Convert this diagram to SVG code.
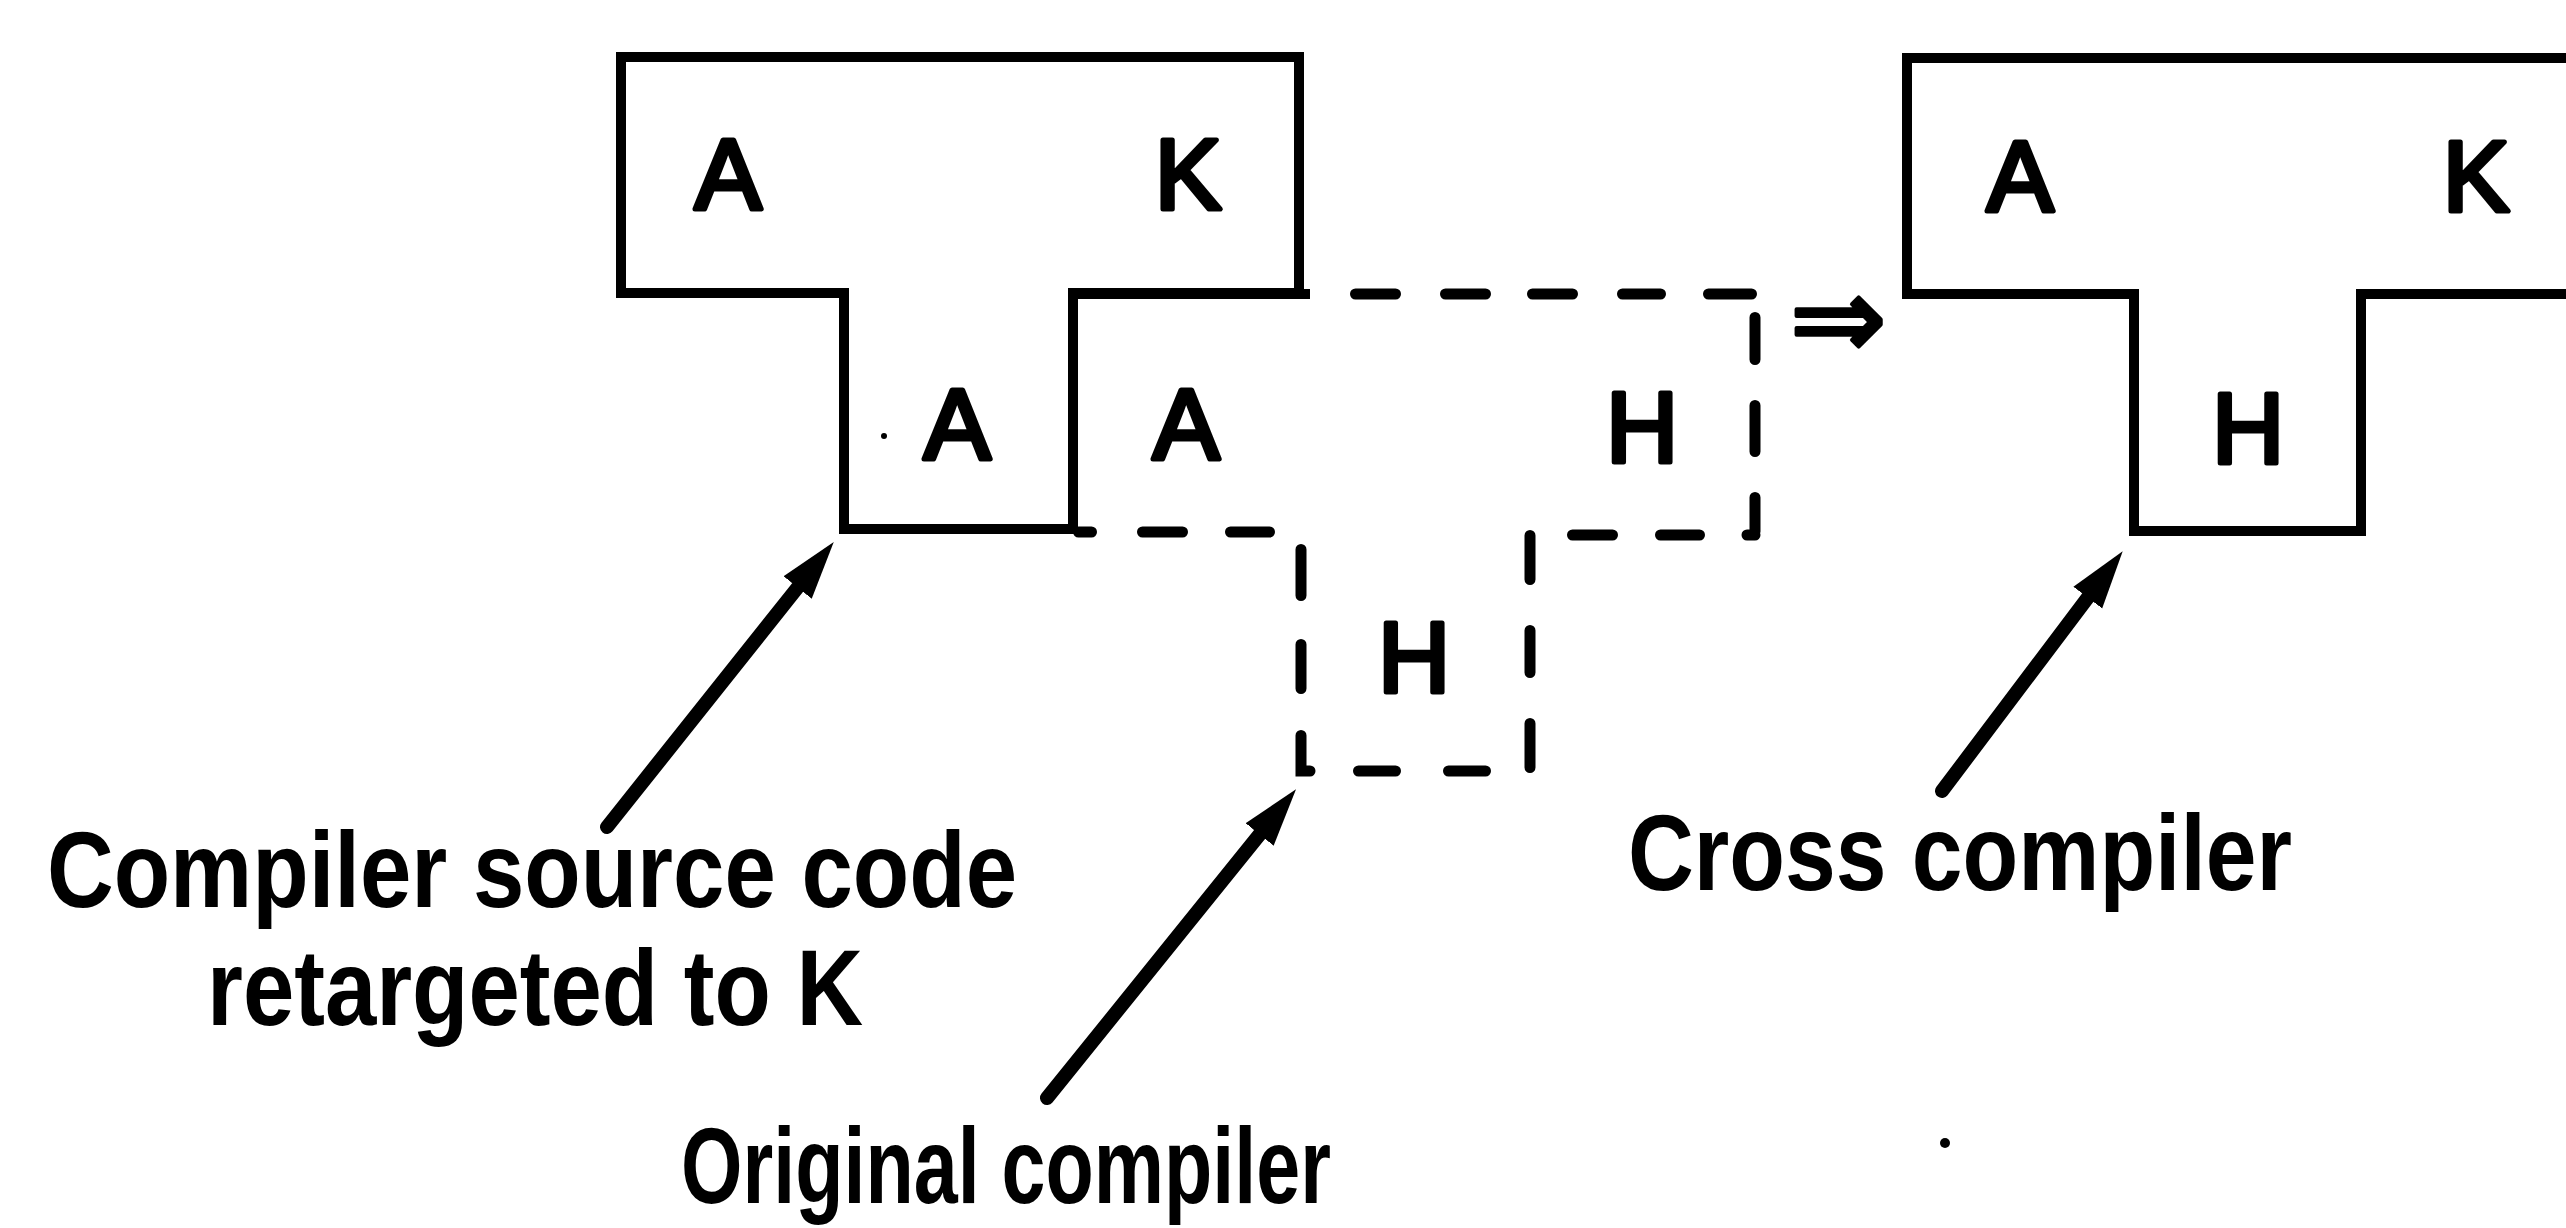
<svg xmlns="http://www.w3.org/2000/svg" width="2566" height="1228" viewBox="0 0 2566 1228">
<defs>
<style>
.outline{fill:none;stroke:#000;stroke-width:10;stroke-linejoin:miter;stroke-linecap:square}
.dash{stroke:#000;stroke-width:11;stroke-linecap:round;fill:none}
.letter{font-family:"Liberation Sans",Arial,sans-serif;font-size:100px;fill:#000;stroke:#000;stroke-width:5;stroke-linejoin:round;text-anchor:middle}
.label{font-family:"Liberation Sans",Arial,sans-serif;font-weight:bold;font-size:108px;fill:#000}
.arrow{stroke:#000;stroke-width:14;stroke-linecap:round;fill:none;marker-end:url(#head)}
.sym{font-family:"DejaVu Sans",sans-serif;font-size:115px;fill:#000;stroke:#000;stroke-width:4;stroke-linejoin:round}
</style>
<marker id="head" markerUnits="userSpaceOnUse" markerWidth="70" markerHeight="44" viewBox="0 -22 70 44" refX="7" refY="0" orient="auto">
<path d="M0,-18 L58,0 L0,18 Z" fill="#000"/>
</marker>
</defs>
<rect width="2566" height="1228" fill="#fff"/>

<g id="node-left-t">
<path class="outline" d="M621,57 H1299 V293 H1073 V529 H844 V293 H621 Z"/>
<text class="letter" x="728" y="209">A</text>
<text class="letter" x="1188" y="209">K</text>
<text class="letter" x="957" y="459">A</text>
<circle cx="884" cy="436" r="3" fill="#000"/>
</g>

<g id="node-dashed-t">
<line class="outline" x1="1073" y1="294" x2="1305" y2="294"/>
<path class="dash" d="M1355.5,294H1395.5 M1445.5,294H1485.5 M1532.5,294H1572.5 M1622.5,294H1660.5 M1708.5,294H1751.5
M1755,317.5V359.5 M1755,405.5V451.5 M1755,497.5V531.5 M1755,535H1747
M1572.5,535H1612.5 M1660.5,535H1699.5
M1530,535.5V579.5 M1530,630.5V672.5 M1530,723.5V767.5
M1358.5,771H1395.5 M1448.5,771H1485.5
M1301,549.5V595.5 M1301,644.5V688.5 M1301,735.5V771H1310
M1078.5,532H1091.5 M1142.5,532H1182.5 M1230.5,532H1269.5"/>
<text class="letter" x="1186" y="459">A</text>
<text class="letter" x="1642" y="462">H</text>
<text class="letter" x="1414" y="692">H</text>
</g>

<g id="node-right-t">
<path class="outline" d="M2580,58 H1907 V294 H2134 V531 H2361 V294 H2580"/>
<text class="letter" x="2020" y="211">A</text>
<text class="letter" x="2476" y="211">K</text>
<text class="letter" x="2248" y="463">H</text>
</g>

<g id="transform-symbol">
<text class="sym" x="1790" y="358">⇒</text>
</g>

<g id="connectors">
<line class="arrow" x1="607" y1="827" x2="802" y2="582"/>
<line class="arrow" x1="1047" y1="1098" x2="1264" y2="829"/>
<line class="arrow" x1="1942" y1="791" x2="2092" y2="592"/>
</g>

<g id="label-source">
<text class="label" x="47" y="907" textLength="970" lengthAdjust="spacingAndGlyphs">Compiler source code</text>
<text class="label" x="207" y="1025" textLength="656" lengthAdjust="spacingAndGlyphs">retargeted to K</text>
</g>
<g id="label-original">
<text class="label" x="681" y="1203" textLength="650" lengthAdjust="spacingAndGlyphs">Original compiler</text>
</g>
<g id="label-cross">
<text class="label" x="1628" y="890" textLength="664" lengthAdjust="spacingAndGlyphs">Cross compiler</text>
</g>
<circle cx="1945" cy="1143" r="5" fill="#000"/>
</svg>
